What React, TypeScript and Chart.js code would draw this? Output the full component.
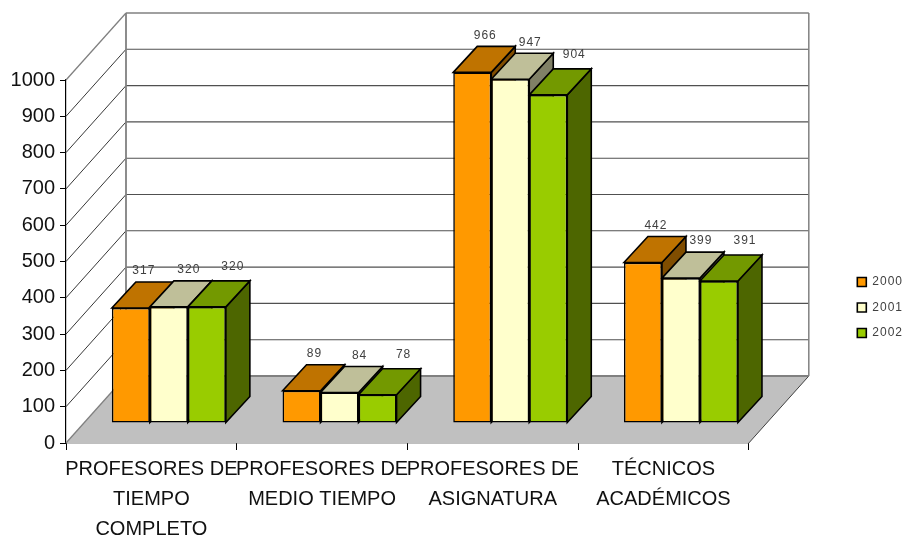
import React, { useEffect, useRef } from "react";
import { Chart, registerables } from "chart.js";

Chart.register(...registerables);

const categories = [
  ["PROFESORES DE", "TIEMPO", "COMPLETO"],
  ["PROFESORES DE", "MEDIO TIEMPO"],
  ["PROFESORES DE", "ASIGNATURA"],
  ["TÉCNICOS", "ACADÉMICOS"],
];
const seriesNames = ["2000", "2001", "2002"];
const values2000 = [317, 89, 966, 442];
const values2001 = [320, 84, 947, 399];
const values2002 = [320, 78, 904, 391];
const yTicks = { min: 0, max: 1000, step: 100 };

const frontColors = ["#FF9900", "#FFFFCC", "#99CC00"];
const topColors = ["#BF7300", "#BFBF99", "#739900"];
const sideColors = ["#804D00", "#808066", "#4D6600"];

const WALL_DX = 60;
const WALL_DY = -67;
const BAR_SHIFT_X = 17.5;
const BAR_SHIFT_Y = -20;
const BAR_DEPTH_X = 24;
const BAR_DEPTH_Y = -26;
const LABEL_OFFSETS = [
  [13, -37],
  [20, -37],
  [26, -40],
];

function poly(ctx: CanvasRenderingContext2D, pts: number[][], fill?: string, stroke?: string, lw = 1, close = false) {
  ctx.beginPath();
  pts.forEach(([x, y], i) => (i ? ctx.lineTo(x, y) : ctx.moveTo(x, y)));
  if (close) ctx.closePath();
  if (fill) {
    ctx.fillStyle = fill;
    ctx.fill();
  }
  if (stroke) {
    ctx.strokeStyle = stroke;
    ctx.lineWidth = lw;
    ctx.lineJoin = "miter";
    ctx.stroke();
  }
}

const scene3d = {
  id: "scene3d",
  afterInit(chart: any) {
    const legend = chart.legend;
    const drawLegend = legend.draw.bind(legend);
    legend.draw = (area: any) => {
      chart.ctx.save();
      chart.ctx.letterSpacing = "1px";
      drawLegend(area);
      chart.ctx.restore();
    };
  },
  beforeDatasetsDraw(chart: any) {
    const ctx: CanvasRenderingContext2D = chart.ctx;
    const { left, right, bottom } = chart.chartArea;
    const yScale = chart.scales.y;

    // floor
    poly(ctx, [
      [left, bottom],
      [right, bottom],
      [right + WALL_DX, bottom + WALL_DY],
      [left + WALL_DX, bottom + WALL_DY],
    ], "#C0C0C0", undefined, 1, true);
    poly(ctx, [[left, bottom], [left + WALL_DX, bottom + WALL_DY]], undefined, "#808080", 1.3);
    poly(ctx, [[right, bottom], [right + WALL_DX, bottom + WALL_DY]], undefined, "#404040", 1);

    // gridlines on the two walls
    for (let v = yTicks.min + yTicks.step; v <= yTicks.max; v += yTicks.step) {
      const y = yScale.getPixelForValue(v);
      const top = v === yTicks.max;
      poly(ctx, [[left, y], [left + WALL_DX, y + WALL_DY]], undefined, top ? "#808080" : "#202020", top ? 1.3 : 0.9);
      poly(ctx, [[left + WALL_DX, y + WALL_DY], [right + WALL_DX, y + WALL_DY]], undefined, top ? "#808080" : "#505050", top ? 1.5 : 1.1);
    }
    // wall edges
    const y0 = yScale.getPixelForValue(0) + WALL_DY;
    const y1 = yScale.getPixelForValue(yTicks.max) + WALL_DY;
    poly(ctx, [[left + WALL_DX, y0], [left + WALL_DX, y1]], undefined, "#808080", 1.8);
    poly(ctx, [[right + WALL_DX, y0], [right + WALL_DX, y1]], undefined, "#808080", 1.5);
    poly(ctx, [[left + WALL_DX, y0], [right + WALL_DX, y0]], undefined, "#808080", 1.8);

    // the bars are shifted back onto the floor, their depth faces drawn from the bars' own geometry
    ctx.save();
    ctx.translate(BAR_SHIFT_X, BAR_SHIFT_Y);
    const n = chart.data.labels.length;
    for (let i = 0; i < n; i++) {
      chart.data.datasets.forEach((_: any, d: number) => {
        const bar = chart.getDatasetMeta(d).data[i];
        const x0 = bar.x - bar.width / 2;
        const x1 = bar.x + bar.width / 2;
        const yT = bar.y;
        const yB = bar.base;
        poly(ctx, [
          [x1, yT], [x1 + BAR_DEPTH_X, yT + BAR_DEPTH_Y],
          [x1 + BAR_DEPTH_X, yB + BAR_DEPTH_Y], [x1, yB],
        ], sideColors[d], "#000", 1.6, true);
        poly(ctx, [
          [x0, yT], [x0 + BAR_DEPTH_X, yT + BAR_DEPTH_Y],
          [x1 + BAR_DEPTH_X, yT + BAR_DEPTH_Y], [x1, yT],
        ], topColors[d], "#000", 1.6, true);
      });
    }
  },
  afterDatasetsDraw(chart: any) {
    const ctx: CanvasRenderingContext2D = chart.ctx;
    ctx.restore();
    ctx.save();
    ctx.font = '12px "Liberation Sans"';
    (ctx as any).letterSpacing = "1px";
    ctx.fillStyle = "#404040";
    ctx.textAlign = "center";
    ctx.textBaseline = "middle";
    chart.data.datasets.forEach((ds: any, d: number) => {
      chart.getDatasetMeta(d).data.forEach((bar: any, i: number) => {
        const [ox, oy] = LABEL_OFFSETS[d];
        ctx.fillText(String(ds.data[i]), bar.x + BAR_SHIFT_X + ox, bar.y + BAR_SHIFT_Y + oy);
      });
    });
    ctx.restore();
  },
};

export default function App() {
  const ref = useRef<HTMLCanvasElement>(null);
  useEffect(() => {
    document.body.style.margin = "0";
    const allValues = [values2000, values2001, values2002];
    const chart = new Chart(ref.current!, {
      type: "bar",
      data: {
        labels: categories as any,
        datasets: seriesNames.map((name, d) => ({
          label: name,
          data: allValues[d],
          backgroundColor: frontColors[d],
          borderColor: "#000000",
          borderWidth: 1.6,
          borderSkipped: false,
          barPercentage: 1,
          categoryPercentage: 0.668,
          clip: false as any,
        })),
      },
      options: {
        responsive: false,
        animation: false,
        devicePixelRatio: 1,
        layout: { padding: { top: 80, left: 0, right: -3, bottom: 0 } },
        scales: {
          x: {
            offset: true,
            afterFit: (s: any) => { s.height = 92; },
            border: { color: "#000", width: 1.2 },
            grid: { display: true, offset: true, drawOnChartArea: false, drawTicks: true, tickLength: 7, tickColor: "#000", tickWidth: 1 },
            ticks: {
              autoSkip: false,
              maxRotation: 0,
              minRotation: 0,
              color: "#111",
              padding: 5,
              font: { family: '"Liberation Sans"', size: 20, lineHeight: 1.48 },
            },
          },
          y: {
            min: yTicks.min,
            max: yTicks.max,
            afterFit: (s: any) => { s.width = 66; },
            border: { color: "#000", width: 1.2 },
            grid: { display: true, drawOnChartArea: false, tickLength: 6, tickColor: "#000", tickWidth: 1 },
            ticks: {
              stepSize: yTicks.step,
              color: "#111",
              padding: 5,
              font: { family: '"Liberation Sans"', size: 20 },
              callback: (v: any) => String(v),
            },
          },
          spacer: {
            type: "linear",
            position: "right",
            display: true,
            min: 0,
            max: 1,
            afterFit: (s: any) => { s.width = 95; },
            border: { display: false },
            grid: { display: false },
            ticks: { display: false },
          },
        },
        plugins: {
          title: { display: false },
          tooltip: { enabled: false },
          legend: {
            position: "right",
            labels: {
              boxWidth: 9,
              boxHeight: 9,
              padding: 13.5,
              color: "#404040",
              font: { family: '"Liberation Sans"', size: 12 },
            },
          },
        },
      } as any,
      plugins: [scene3d],
    });
    return () => chart.destroy();
  }, []);
  return <canvas ref={ref} width={906} height={535} style={{ display: "block" }} />;
}
